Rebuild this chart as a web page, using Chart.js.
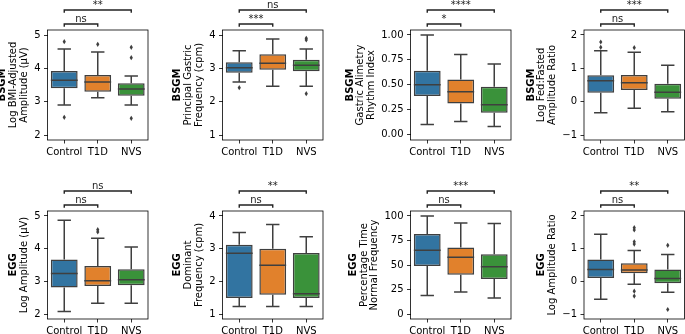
<!DOCTYPE html>
<html>
<head>
<meta charset="utf-8">
<script src="https://cdn.jsdelivr.net/npm/chart.js@4.4.1/dist/chart.umd.min.js"></script>
<style>
  html, body { margin: 0; padding: 0; background: #ffffff; }
  #wrap { position: relative; width: 685px; height: 334px; overflow: hidden; }
  #wrap canvas { position: absolute; left: 0; top: 0; }
</style>
</head>
<body>
<div id="wrap"></div>
<script>
// ---------------- data ----------------
const categories = ['Control', 'T1D', 'NVS'];

// Panel 1: BSGM Log BMI-Adjusted Amplitude
const p1Low = [2.90, 3.12, 2.90];
const p1Q1 = [3.40, 3.30, 3.18];
const p1Median = [3.64, 3.59, 3.38];
const p1Q3 = [3.92, 3.80, 3.55];
const p1High = [4.58, 4.49, 3.77];
const p1Outliers = [[4.80, 2.53], [4.72], [4.63, 4.32, 2.50]];
const p1Ticks = [2, 3, 4, 5];
const p1TickLabels = ['2', '3', '4', '5'];
const p1Range = [1.85, 5.15];
const p1Title = ['BSGM', 'Log BMI-Adjusted', 'Amplitude (\u03bcV)'];
const p1Sig = ['ns', '**'];

// Panel 2: BSGM Principal Gastric Frequency
const p2Low = [2.59, 2.46, 2.46];
const p2Q1 = [2.87, 2.96, 2.91];
const p2Median = [3.02, 3.15, 3.09];
const p2Q3 = [3.18, 3.42, 3.26];
const p2High = [3.53, 3.88, 3.58];
const p2Outliers = [[2.42], [], [3.90, 3.85, 2.24]];
const p2Ticks = [1, 2, 3, 4];
const p2TickLabels = ['1', '2', '3', '4'];
const p2Range = [0.85, 4.15];
const p2Title = ['BSGM', 'Principal Gastric', 'Frequency (cpm)'];
const p2Sig = ['***', 'ns'];

// Panel 3: BSGM Gastric Alimetry Rhythm Index
const p3Low = [0.10, 0.13, 0.08];
const p3Q1 = [0.386, 0.312, 0.218];
const p3Median = [0.50, 0.43, 0.30];
const p3Q3 = [0.64, 0.554, 0.48];
const p3High = [1.00, 0.805, 0.708];
const p3Outliers = [[], [], []];
const p3Ticks = [0, 0.25, 0.5, 0.75, 1];
const p3TickLabels = ['0.00', '0.25', '0.50', '0.75', '1.00'];
const p3Range = [-0.055, 1.05];
const p3Title = ['BSGM', 'Gastric Alimetry', 'Rhythm Index'];
const p3Sig = ['*', '****'];

// Panel 4: BSGM Log Fed:Fasted Amplitude Ratio
const p4Low = [-0.33, -0.20, -0.30];
const p4Q1 = [0.27, 0.35, 0.09];
const p4Median = [0.63, 0.57, 0.28];
const p4Q3 = [0.79, 0.80, 0.54];
const p4High = [1.53, 1.48, 1.09];
const p4Outliers = [[1.79, 1.63], [1.62], []];
const p4Ticks = [-1, 0, 1, 2];
const p4TickLabels = ['\u22121', '0', '1', '2'];
const p4Range = [-1.15, 2.15];
const p4Title = ['BSGM', 'Log Fed:Fasted', 'Amplitude Ratio'];
const p4Sig = ['ns', '***'];

// Panel 5: EGG Log Amplitude
const p5Low = [2.08, 2.33, 2.33];
const p5Q1 = [2.81, 2.86, 2.88];
const p5Median = [3.24, 3.02, 3.05];
const p5Q3 = [3.67, 3.47, 3.37];
const p5High = [4.87, 4.32, 4.05];
const p5Outliers = [[], [4.58, 4.51], []];
const p5Ticks = [2, 3, 4, 5];
const p5TickLabels = ['2', '3', '4', '5'];
const p5Range = [1.85, 5.15];
const p5Title = ['EGG', 'Log Amplitude (\u03bcV)'];
const p5Sig = ['ns', 'ns'];

// Panel 6: EGG Dominant Frequency
const p6Low = [1.23, 1.23, 1.23];
const p6Q1 = [1.49, 1.59, 1.49];
const p6Median = [2.86, 2.49, 1.62];
const p6Q3 = [3.12, 3.00, 2.87];
const p6High = [3.49, 3.74, 3.36];
const p6Outliers = [[], [], []];
const p6Ticks = [1, 2, 3, 4];
const p6TickLabels = ['1', '2', '3', '4'];
const p6Range = [0.85, 4.15];
const p6Title = ['EGG', 'Dominant', 'Frequency (cpm)'];
const p6Sig = ['ns', '**'];

// Panel 7: EGG Percentage Time Normal Frequency
const p7Low = [19.0, 22.4, 16.3];
const p7Q1 = [49.0, 40.1, 35.7];
const p7Median = [65.0, 57.8, 48.3];
const p7Q3 = [81.6, 67.7, 60.9];
const p7High = [100.0, 92.9, 92.2];
const p7Outliers = [[], [], []];
const p7Ticks = [0, 25, 50, 75, 100];
const p7TickLabels = ['0', '25', '50', '75', '100'];
const p7Range = [-5, 105];
const p7Title = ['EGG', 'Percentage Time', 'Normal Frequency'];
const p7Sig = ['ns', '***'];

// Panel 8: EGG Log Amplitude Ratio
const p8Low = [-0.55, -0.09, -0.33];
const p8Q1 = [0.10, 0.245, -0.06];
const p8Median = [0.36, 0.35, 0.09];
const p8Q3 = [0.67, 0.55, 0.36];
const p8High = [1.44, 0.94, 0.82];
const p8Outliers = [[], [1.64, 1.57, 1.21, 1.14, -0.30, -0.45], [1.10, -0.86]];
const p8Ticks = [-1, 0, 1, 2];
const p8TickLabels = ['\u22121', '0', '1', '2'];
const p8Range = [-1.15, 2.15];
const p8Title = ['EGG', 'Log Amplitude Ratio'];
const p8Sig = ['ns', '**'];

// ---------------- styles / layout ----------------
const boxColors = ['#3274A1', '#E1812C', '#3A923A'];
const lineGray = '#3f3f3f';
const FONT = 'DejaVu Sans';
const W = 685, H = 334;
const colLeft = [47.5, 222.5, 410.5, 584];
const colRight = [148, 323, 511, 684.5];
const rowTop = [30, 211];
const rowBottom = [140, 319];
const Y_AXIS_W = 40, X_AXIS_H = 22;

const panels = [
  { low: p1Low, q1: p1Q1, med: p1Median, q3: p1Q3, high: p1High, out: p1Outliers, ticks: p1Ticks, tickLabels: p1TickLabels, range: p1Range, title: p1Title, sig: p1Sig },
  { low: p2Low, q1: p2Q1, med: p2Median, q3: p2Q3, high: p2High, out: p2Outliers, ticks: p2Ticks, tickLabels: p2TickLabels, range: p2Range, title: p2Title, sig: p2Sig },
  { low: p3Low, q1: p3Q1, med: p3Median, q3: p3Q3, high: p3High, out: p3Outliers, ticks: p3Ticks, tickLabels: p3TickLabels, range: p3Range, title: p3Title, sig: p3Sig },
  { low: p4Low, q1: p4Q1, med: p4Median, q3: p4Q3, high: p4High, out: p4Outliers, ticks: p4Ticks, tickLabels: p4TickLabels, range: p4Range, title: p4Title, sig: p4Sig },
  { low: p5Low, q1: p5Q1, med: p5Median, q3: p5Q3, high: p5High, out: p5Outliers, ticks: p5Ticks, tickLabels: p5TickLabels, range: p5Range, title: p5Title, sig: p5Sig },
  { low: p6Low, q1: p6Q1, med: p6Median, q3: p6Q3, high: p6High, out: p6Outliers, ticks: p6Ticks, tickLabels: p6TickLabels, range: p6Range, title: p6Title, sig: p6Sig },
  { low: p7Low, q1: p7Q1, med: p7Median, q3: p7Q3, high: p7High, out: p7Outliers, ticks: p7Ticks, tickLabels: p7TickLabels, range: p7Range, title: p7Title, sig: p7Sig },
  { low: p8Low, q1: p8Q1, med: p8Median, q3: p8Q3, high: p8High, out: p8Outliers, ticks: p8Ticks, tickLabels: p8TickLabels, range: p8Range, title: p8Title, sig: p8Sig }
];

// plugin: whiskers, medians, fliers, frame, significance brackets, y label
const boxExtras = {
  id: 'boxExtras',
  afterDatasetsDraw(chart) {
    const p = chart.options.plugins.boxExtras.panel;
    const ctx = chart.ctx;
    const xs = chart.scales.x, ys = chart.scales.y;
    const area = chart.chartArea;
    const catW = (area.right - area.left) / categories.length;
    ctx.save();
    ctx.strokeStyle = lineGray;
    ctx.lineWidth = 1.5;
    ctx.lineCap = 'butt';
    categories.forEach((c, j) => {
      const cx = xs.getPixelForValue(j);
      const capHalf = catW * 0.2;
      const boxHalf = catW * 0.4;
      const yLow = ys.getPixelForValue(p.low[j]);
      const yQ1 = ys.getPixelForValue(p.q1[j]);
      const yMed = ys.getPixelForValue(p.med[j]);
      const yQ3 = ys.getPixelForValue(p.q3[j]);
      const yHigh = ys.getPixelForValue(p.high[j]);
      ctx.beginPath();
      ctx.moveTo(cx, yQ1); ctx.lineTo(cx, yLow);
      ctx.moveTo(cx, yQ3); ctx.lineTo(cx, yHigh);
      ctx.moveTo(cx - capHalf, yLow); ctx.lineTo(cx + capHalf, yLow);
      ctx.moveTo(cx - capHalf, yHigh); ctx.lineTo(cx + capHalf, yHigh);
      ctx.moveTo(cx - boxHalf, yMed); ctx.lineTo(cx + boxHalf, yMed);
      ctx.stroke();
      // fliers (thin diamonds)
      ctx.fillStyle = lineGray;
      p.out[j].forEach(v => {
        const py = ys.getPixelForValue(v);
        ctx.beginPath();
        ctx.moveTo(cx, py - 2.6);
        ctx.lineTo(cx + 1.6, py);
        ctx.lineTo(cx, py + 2.6);
        ctx.lineTo(cx - 1.6, py);
        ctx.closePath();
        ctx.fill();
      });
    });
    ctx.restore();
  },
  afterDraw(chart) {
    const p = chart.options.plugins.boxExtras.panel;
    const ctx = chart.ctx;
    const xs = chart.scales.x, ys = chart.scales.y;
    const area = chart.chartArea;
    ctx.save();
    // frame
    ctx.strokeStyle = '#000';
    ctx.lineWidth = 0.8;
    ctx.strokeRect(area.left, area.top, area.right - area.left, area.bottom - area.top);
    // significance brackets
    ctx.lineWidth = 1.4;
    ctx.strokeStyle = '#222';
    ctx.fillStyle = '#222';
    ctx.font = '10px "' + FONT + '"';
    ctx.textAlign = 'center';
    ctx.textBaseline = 'alphabetic';
    const pairs = [[0, 1, 6], [0, 2, 20]];
    pairs.forEach((pr, k) => {
      const xa = xs.getPixelForValue(pr[0]);
      const xb = xs.getPixelForValue(pr[1]);
      const yl = area.top - pr[2];
      ctx.beginPath();
      ctx.moveTo(xa, yl + 2.8); ctx.lineTo(xa, yl); ctx.lineTo(xb, yl); ctx.lineTo(xb, yl + 2.8);
      ctx.stroke();
      ctx.fillText(p.sig[k], (xa + xb) / 2, yl - 2);
    });
    // y label (bold first line)
    ctx.font = '10px "' + FONT + '"';
    let maxW = 0;
    p.tickLabels.forEach(t => { maxW = Math.max(maxW, ctx.measureText(t).width); });
    const n = p.title.length;
    const lineH = 10.8;
    const lastX = area.left - 7 - maxW - 4.5 - 5.2;
    const cy = (area.top + area.bottom) / 2;
    ctx.fillStyle = '#000';
    ctx.textBaseline = 'middle';
    p.title.forEach((line, k) => {
      const lx = lastX - (n - 1 - k) * lineH;
      ctx.save();
      ctx.translate(lx, cy);
      ctx.rotate(-Math.PI / 2);
      ctx.font = (k === 0 ? 'bold ' : '') + '10px "' + FONT + '"';
      ctx.fillText(line, 0, 0);
      ctx.restore();
    });
    ctx.restore();
  }
};

const wrap = document.getElementById('wrap');
panels.forEach((p, i) => {
  const col = i % 4, row = Math.floor(i / 4);
  const canvas = document.createElement('canvas');
  canvas.width = W; canvas.height = H;
  canvas.style.width = W + 'px'; canvas.style.height = H + 'px';
  wrap.appendChild(canvas);
  new Chart(canvas, {
    type: 'bar',
    data: {
      labels: categories,
      datasets: [{
        data: categories.map((c, j) => [p.q1[j], p.q3[j]]),
        backgroundColor: boxColors,
        borderColor: lineGray,
        borderWidth: 1.5,
        borderSkipped: false,
        barPercentage: 0.8,
        categoryPercentage: 1.0
      }]
    },
    options: {
      responsive: false,
      animation: false,
      devicePixelRatio: 1,
      events: [],
      layout: {
        padding: {
          left: colLeft[col] - Y_AXIS_W,
          right: W - colRight[col],
          top: rowTop[row],
          bottom: H - rowBottom[row] - X_AXIS_H
        }
      },
      plugins: {
        legend: { display: false },
        tooltip: { enabled: false },
        boxExtras: { panel: p }
      },
      scales: {
        x: {
          offset: true,
          border: { display: false },
          grid: { display: true, drawOnChartArea: false, drawTicks: true, tickLength: 3.5, offset: false, tickColor: '#000', tickWidth: 0.8 },
          ticks: { font: { family: FONT, size: 10 }, color: '#000', padding: 2.5, maxRotation: 0, autoSkip: false },
          afterFit: s => { s.height = X_AXIS_H; }
        },
        y: {
          min: p.range[0],
          max: p.range[1],
          border: { display: false },
          grid: { display: true, drawOnChartArea: false, drawTicks: true, tickLength: 3.5, tickColor: '#000', tickWidth: 0.8 },
          ticks: {
            font: { family: FONT, size: 10 }, color: '#000', padding: 3.5,
            callback: (v, idx) => p.tickLabels[idx]
          },
          afterBuildTicks: s => { s.ticks = p.ticks.map(v => ({ value: v })); },
          afterFit: s => { s.width = Y_AXIS_W; }
        }
      }
    },
    plugins: [boxExtras]
  });
});
</script>
</body>
</html>
